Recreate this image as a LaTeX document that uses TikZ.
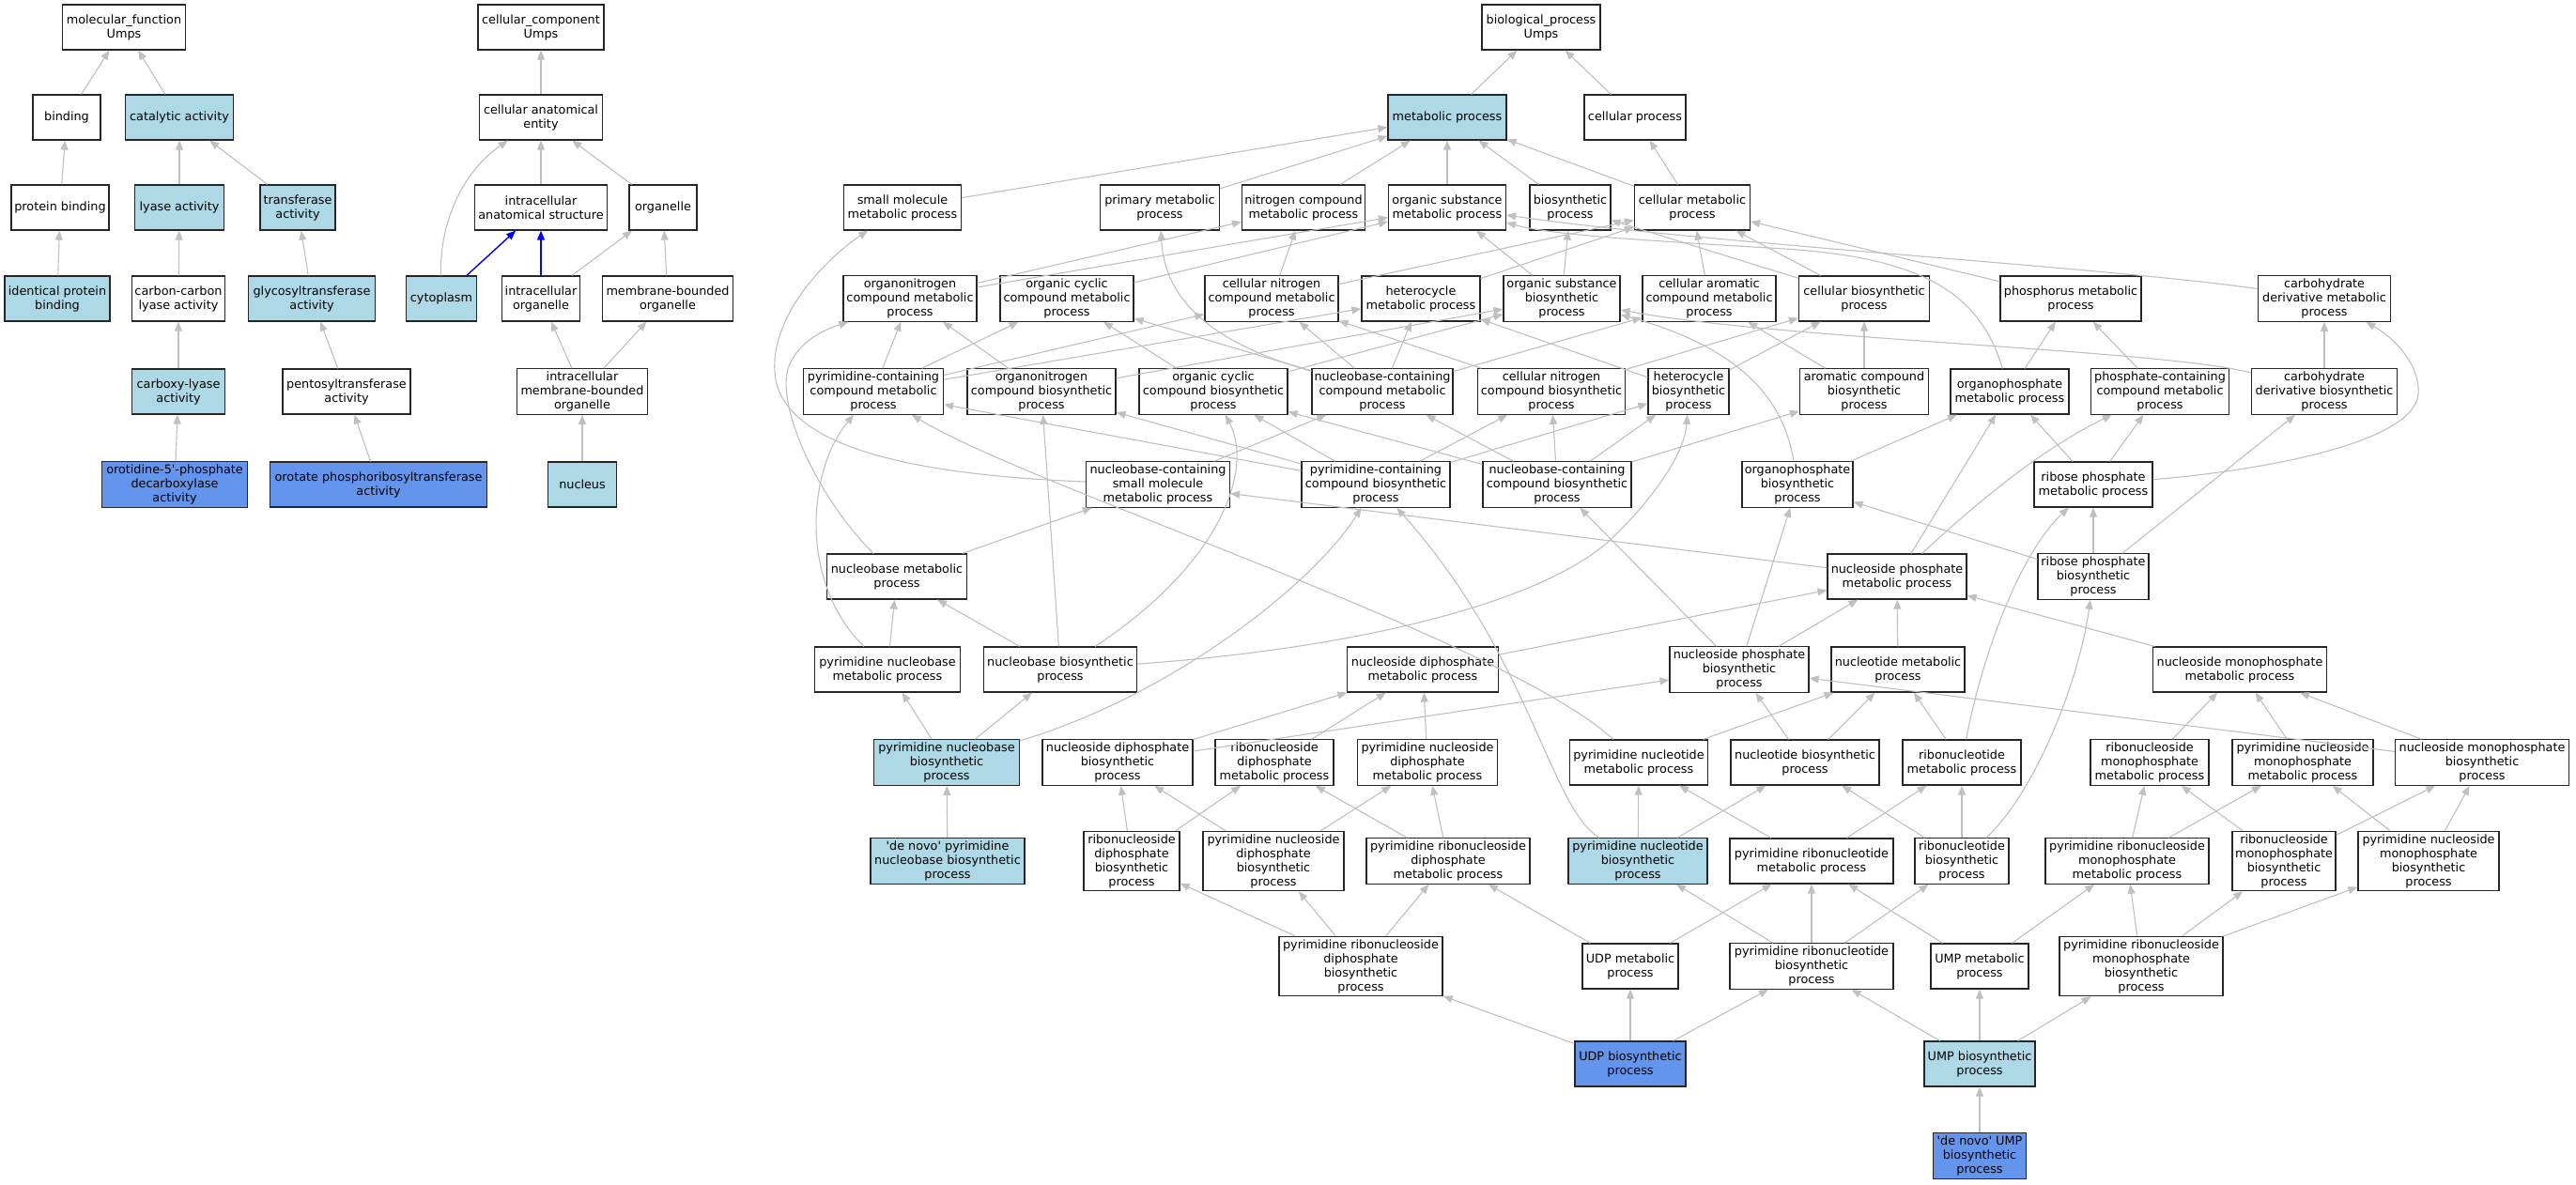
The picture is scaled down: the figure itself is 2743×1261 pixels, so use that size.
\documentclass[tikz,border=0pt]{standalone}
\usepackage{fontspec}
\setmainfont{DejaVu Sans}
\usetikzlibrary{arrows.meta}
\definecolor{lb}{RGB}{173,216,230}
\definecolor{cfb}{RGB}{100,149,237}
\definecolor{eg}{RGB}{192,192,192}
\tikzset{
  gobox/.style={draw=black!85, line width=1.2pt, fill=white, rectangle, align=center,
    inner xsep=2pt, inner ysep=3pt, minimum height=48pt,
    font=\fontsize{12.8pt}{15pt}\selectfont},
  lbf/.style={gobox, fill=lb},
  cbf/.style={gobox, fill=cfb},
  mw/.style={minimum width=#1pt},
  goedge/.style={draw=eg, line width=1.1pt, -{Triangle[length=10pt,width=8pt]}},
  goblue/.style={draw=blue, line width=1.4pt, -{Triangle[length=10pt,width=8pt]}},
}
\begin{document}
\begin{tikzpicture}[x=1pt,y=-1pt]
\fill[white] (0,0) rectangle (2743,1261);
\useasboundingbox (0,0) rectangle (2743,1261);
% ---------------- molecular function ----------------
\node[gobox,mw=131] (mf) at (132,29) {molecular\_function\\Umps};
\node[gobox,mw=72] (binding) at (71,125) {binding};
\node[lbf,mw=115] (catalytic) at (191,125) {catalytic activity};
\node[gobox,mw=104] (pbind) at (64,221) {protein binding};
\node[lbf,mw=95] (lyase) at (191,221) {lyase activity};
\node[lbf,mw=80] (transf) at (317,221) {transferase\\activity};
\node[lbf,mw=112] (ipb) at (61,318) {identical protein\\binding};
\node[gobox,mw=99] (cclyase) at (190,318) {carbon-carbon\\lyase activity};
\node[lbf,mw=135] (glyco) at (332,318) {glycosyltransferase\\activity};
\node[lbf,mw=99] (carboxy) at (190,417) {carboxy-lyase\\activity};
\node[gobox,mw=136] (pento) at (369,417) {pentosyltransferase\\activity};
\node[cbf,mw=155] (orotidine) at (186,516) {orotidine-5\textquotesingle-phosphate\\decarboxylase\\activity};
\node[cbf,mw=231] (orotate) at (403,516) {orotate phosphoribosyltransferase\\activity};
% ---------------- cellular component ----------------
\node[gobox,mw=134] (cc) at (576,29) {cellular\_component\\Umps};
\node[gobox,mw=131] (cae) at (576,125) {cellular anatomical\\entity};
\node[gobox,mw=141] (ias) at (576,221) {intracellular\\anatomical structure};
\node[gobox,mw=72] (organelle) at (706,221) {organelle};
\node[lbf,mw=75] (cytoplasm) at (470,318) {cytoplasm};
\node[gobox,mw=83] (iorg) at (576,318) {intracellular\\organelle};
\node[gobox,mw=139] (mbo) at (711,318) {membrane-bounded\\organelle};
\node[gobox,mw=139] (imbo) at (620,417) {intracellular\\membrane-bounded\\organelle};
\node[lbf,mw=73] (nucleus) at (620,516) {nucleus};
% ---------------- biological process ----------------
\node[gobox,mw=126] (bp) at (1641,29) {biological\_process\\Umps};
\node[lbf,mw=126] (metabolic) at (1541,125) {metabolic process};
\node[gobox,mw=108] (cellproc) at (1741,125) {cellular process};
% row 2
\node[gobox,mw=125] (smallmol) at (961,221) {small molecule\\metabolic process};
\node[gobox,mw=127] (primary) at (1235,221) {primary metabolic\\process};
\node[gobox,mw=131] (nitrogen) at (1388,221) {nitrogen compound\\metabolic process};
\node[gobox,mw=125] (orgsubst) at (1541,221) {organic substance\\metabolic process};
\node[gobox,mw=86] (biosyn) at (1672,221) {biosynthetic\\process};
\node[gobox,mw=123] (cellmet) at (1802,221) {cellular metabolic\\process};
% row 3
\node[gobox,mw=142] (orgN) at (969,318) {organonitrogen\\compound metabolic\\process};
\node[gobox,mw=142] (orgcyc) at (1136,318) {organic cyclic\\compound metabolic\\process};
\node[gobox,mw=142] (cellN) at (1354,318) {cellular nitrogen\\compound metabolic\\process};
\node[gobox,mw=126] (hetero) at (1513,318) {heterocycle\\metabolic process};
\node[gobox,mw=124] (orgsubbio) at (1663,318) {organic substance\\biosynthetic\\process};
\node[gobox,mw=142] (cellarom) at (1820,318) {cellular aromatic\\compound metabolic\\process};
\node[gobox,mw=139] (cellbio) at (1985,318) {cellular biosynthetic\\process};
\node[gobox,mw=150] (phosphorus) at (2205,318) {phosphorus metabolic\\process};
\node[gobox,mw=141] (carbder) at (2475,318) {carbohydrate\\derivative metabolic\\process};
% row 4
\node[gobox,mw=149] (pyrcont) at (930,417) {pyrimidine-containing\\compound metabolic\\process};
\node[gobox,mw=158] (orgNbio) at (1109,417) {organonitrogen\\compound biosynthetic\\process};
\node[gobox,mw=158] (orgcycbio) at (1292,417) {organic cyclic\\compound biosynthetic\\process};
\node[gobox,mw=150] (nbcont) at (1472,417) {nucleobase-containing\\compound metabolic\\process};
\node[gobox,mw=157] (cellNbio) at (1652,417) {cellular nitrogen\\compound biosynthetic\\process};
\node[gobox,mw=86] (heterobio) at (1798,417) {heterocycle\\biosynthetic\\process};
\node[gobox,mw=137] (arombio) at (1985,417) {aromatic compound\\biosynthetic\\process};
\node[gobox,mw=126] (orgP) at (2140,417) {organophosphate\\metabolic process};
\node[gobox,mw=147] (Pcont) at (2300,417) {phosphate-containing\\compound metabolic\\process};
\node[gobox,mw=155] (carbderbio) at (2475,417) {carbohydrate\\derivative biosynthetic\\process};
% row 5
\node[gobox,mw=153] (nbsmall) at (1233,516) {nucleobase-containing\\small molecule\\metabolic process};
\node[gobox,mw=158] (pyrcontbio) at (1465,516) {pyrimidine-containing\\compound biosynthetic\\process};
\node[gobox,mw=158] (nbcontbio) at (1658,516) {nucleobase-containing\\compound biosynthetic\\process};
\node[gobox,mw=118] (orgPbio) at (1914,516) {organophosphate\\biosynthetic\\process};
\node[gobox,mw=126] (ribP) at (2229,516) {ribose phosphate\\metabolic process};
% row 6
\node[gobox,mw=149] (nbmet) at (955,614) {nucleobase metabolic\\process};
\node[gobox,mw=148] (nsP) at (2020,614) {nucleoside phosphate\\metabolic process};
\node[gobox,mw=118] (ribPbio) at (2229,614) {ribose phosphate\\biosynthetic\\process};
% row 7
\node[gobox,mw=155] (pyrnbmet) at (945,713) {pyrimidine nucleobase\\metabolic process};
\node[gobox,mw=163] (nbbio) at (1129,713) {nucleobase biosynthetic\\process};
\node[gobox,mw=161] (nsDPmet) at (1515,713) {nucleoside diphosphate\\metabolic process};
\node[gobox,mw=148] (nsPbio) at (1852,713) {nucleoside phosphate\\biosynthetic\\process};
\node[gobox,mw=142] (ntmet) at (2021,713) {nucleotide metabolic\\process};
\node[gobox,mw=185] (nsMPmet) at (2385,713) {nucleoside monophosphate\\metabolic process};
% row 8
\node[lbf,mw=155] (pyrnbbio) at (1008,812) {pyrimidine nucleobase\\biosynthetic\\process};
\node[gobox,mw=160] (nsDPbio) at (1190,812) {nucleoside diphosphate\\biosynthetic\\process};
\node[gobox,mw=126] (rnsDPmet) at (1357,812) {ribonucleoside\\diphosphate\\metabolic process};
\node[gobox,mw=149] (pyrnsDPmet) at (1520,812) {pyrimidine nucleoside\\diphosphate\\metabolic process};
\node[gobox,mw=147] (pyrntmet) at (1745,812) {pyrimidine nucleotide\\metabolic process};
\node[gobox,mw=158] (ntbio) at (1922,812) {nucleotide biosynthetic\\process};
\node[gobox,mw=126] (rntmet) at (2089,812) {ribonucleotide\\metabolic process};
\node[gobox,mw=126] (rnsMPmet) at (2289,812) {ribonucleoside\\monophosphate\\metabolic process};
\node[gobox,mw=150] (pyrnsMPmet) at (2452,812) {pyrimidine nucleoside\\monophosphate\\metabolic process};
\node[gobox,mw=185] (nsMPbio) at (2643,812) {nucleoside monophosphate\\biosynthetic\\process};
% row 9
\node[lbf,mw=164] (denovopyr) at (1009,917) {\textquotesingle de novo\textquotesingle\ pyrimidine\\nucleobase biosynthetic\\process};
\node[gobox,mw=102] (rnsDPbio) at (1205,917) {ribonucleoside\\diphosphate\\biosynthetic\\process};
\node[gobox,mw=150] (pyrnsDPbio) at (1356,917) {pyrimidine nucleoside\\diphosphate\\biosynthetic\\process};
\node[gobox,mw=174] (pyrrnsDPmet) at (1542,917) {pyrimidine ribonucleoside\\diphosphate\\metabolic process};
\node[lbf,mw=148] (pyrntbio) at (1744,917) {pyrimidine nucleotide\\biosynthetic\\process};
\node[gobox,mw=174] (pyrrntmet) at (1929,917) {pyrimidine ribonucleotide\\metabolic process};
\node[gobox,mw=100] (rntbio) at (2089,917) {ribonucleotide\\biosynthetic\\process};
\node[gobox,mw=174] (pyrrnsMPmet) at (2265,917) {pyrimidine ribonucleoside\\monophosphate\\metabolic process};
\node[gobox,mw=110] (rnsMPbio) at (2432,917) {ribonucleoside\\monophosphate\\biosynthetic\\process};
\node[gobox,mw=150] (pyrnsMPbio) at (2586,917) {pyrimidine nucleoside\\monophosphate\\biosynthetic\\process};
% row 10
\node[gobox,mw=174] (pyrrnsDPbio) at (1449,1029) {pyrimidine ribonucleoside\\diphosphate\\biosynthetic\\process};
\node[gobox,mw=102] (UDPmet) at (1736,1029) {UDP metabolic\\process};
\node[gobox,mw=174] (pyrrntbio) at (1929,1029) {pyrimidine ribonucleotide\\biosynthetic\\process};
\node[gobox,mw=104] (UMPmet) at (2108,1029) {UMP metabolic\\process};
\node[gobox,mw=174] (pyrrnsMPbio) at (2280,1029) {pyrimidine ribonucleoside\\monophosphate\\biosynthetic\\process};
% row 11, 12
\node[cbf,mw=118] (UDPbio) at (1736,1133) {UDP biosynthetic\\process};
\node[lbf,mw=118] (UMPbio) at (2108,1133) {UMP biosynthetic\\process};
\node[cbf,mw=99] (denovoUMP) at (2108,1231) {\textquotesingle de novo\textquotesingle\ UMP\\biosynthetic\\process};

% ================= edges =================
% molecular function
\draw[goedge] (binding) -- (mf);
\draw[goedge] (catalytic) -- (mf);
\draw[goedge] (pbind) -- (binding);
\draw[goedge] (lyase) -- (catalytic);
\draw[goedge] (transf) -- (catalytic);
\draw[goedge] (ipb) -- (pbind);
\draw[goedge] (cclyase) -- (lyase);
\draw[goedge] (glyco) -- (transf);
\draw[goedge] (carboxy) -- (cclyase);
\draw[goedge] (pento) -- (glyco);
\draw[goedge] (orotidine) -- (carboxy);
\draw[goedge] (orotate) -- (pento);
% cellular component
\draw[goedge] (cae) -- (cc);
\draw[goedge] (ias) -- (cae);
\draw[goedge] (organelle) -- (cae);
\draw[goedge] (cytoplasm) .. controls (468,240) and (490,185) .. (cae);
\draw[goblue] (cytoplasm) -- (ias);
\draw[goblue] (iorg) -- (ias);
\draw[goedge] (iorg) -- (organelle);
\draw[goedge] (mbo) -- (organelle);
\draw[goedge] (imbo) -- (iorg);
\draw[goedge] (imbo) -- (mbo);
\draw[goedge] (nucleus) -- (imbo);
% biological process: rows 1-2
\draw[goedge] (metabolic) -- (bp);
\draw[goedge] (cellproc) -- (bp);
\draw[goedge] (smallmol) -- (metabolic);
\draw[goedge] (primary) -- (metabolic);
\draw[goedge] (nitrogen) -- (metabolic);
\draw[goedge] (orgsubst) -- (metabolic);
\draw[goedge] (biosyn) -- (metabolic);
\draw[goedge] (cellmet) -- (metabolic);
\draw[goedge] (cellmet) -- (cellproc);
% row 3
\draw[goedge] (orgN) -- (nitrogen);
\draw[goedge] (orgN) -- (orgsubst);
\draw[goedge] (orgcyc) -- (orgsubst);
\draw[goedge] (cellN) -- (nitrogen);
\draw[goedge] (cellN) -- (cellmet);
\draw[goedge] (hetero) -- (cellmet);
\draw[goedge] (orgsubbio) -- (orgsubst);
\draw[goedge] (orgsubbio) -- (biosyn);
\draw[goedge] (cellarom) -- (cellmet);
\draw[goedge] (cellbio) -- (cellmet);
\draw[goedge] (cellbio) -- (biosyn);
\draw[goedge] (phosphorus) -- (cellmet);
\draw[goedge] (carbder) .. controls (2250,285) and (1800,258) .. ([yshift=-8pt]orgsubst.east);
% row 4
\draw[goedge] (pyrcont) -- (orgN);
\draw[goedge] (pyrcont) -- (orgcyc);
\draw[goedge] (pyrcont) -- (cellN);
\draw[goedge] (pyrcont) -- (hetero);
\draw[goedge] (orgNbio) -- (orgN);
\draw[goedge] (orgNbio) -- (orgsubbio);
\draw[goedge] (orgcycbio) -- (orgcyc);
\draw[goedge] (orgcycbio) -- (orgsubbio);
\draw[goedge] (nbcont) -- (orgcyc);
\draw[goedge] (nbcont) -- (cellN);
\draw[goedge] (nbcont) -- (hetero);
\draw[goedge] (nbcont) -- (cellarom);
\draw[goedge] (nbcont) .. controls (1290,365) and (1240,320) .. (primary);
\draw[goedge] (cellNbio) -- (cellN);
\draw[goedge] (cellNbio) -- (cellbio);
\draw[goedge] (heterobio) -- (hetero);
\draw[goedge] (heterobio) -- (cellbio);
\draw[goedge] (arombio) -- (cellarom);
\draw[goedge] (arombio) -- (cellbio);
\draw[goedge] (orgP) -- (phosphorus);
\draw[goedge] (orgP) .. controls (2110,320) and (2060,275) .. (1900,265) .. controls (1750,256) and (1650,250) .. ([yshift=-16pt]orgsubst.east);
\draw[goedge] (Pcont) -- (phosphorus);
\draw[goedge] (carbderbio) -- (carbder);
\draw[goedge] (carbderbio) .. controls (2300,372) and (1900,362) .. ([yshift=-12pt]orgsubbio.east);
% row 5
\draw[goedge] (nbsmall) .. controls (950,505) and (840,470) .. (826,405) .. controls (815,340) and (880,275) .. (smallmol);
\draw[goedge] (nbsmall) -- (nbcont);
\draw[goedge] (pyrcontbio) -- (pyrcont);
\draw[goedge] (pyrcontbio) -- (orgNbio);
\draw[goedge] (pyrcontbio) -- (orgcycbio);
\draw[goedge] (pyrcontbio) -- (cellNbio);
\draw[goedge] (pyrcontbio) -- (heterobio);
\draw[goedge] (nbcontbio) -- (nbcont);
\draw[goedge] (nbcontbio) -- (cellNbio);
\draw[goedge] (nbcontbio) -- (heterobio);
\draw[goedge] (nbcontbio) -- (arombio);
\draw[goedge] (nbcontbio) -- (orgcycbio);
\draw[goedge] (orgPbio) -- (orgP);
\draw[goedge] (orgPbio) .. controls (1900,430) and (1860,372) .. (orgsubbio);
\draw[goedge] (ribP) -- (orgP);
\draw[goedge] (ribP) -- (Pcont);
\draw[goedge] (ribP) .. controls (2420,500) and (2570,470) .. (2575,420) .. controls (2578,390) and (2550,360) .. (carbder);
% row 6
\draw[goedge] (nbmet) .. controls (870,530) and (825,430) .. (840,390) .. controls (850,365) and (875,352) .. ([xshift=6pt]orgN.south west);
\draw[goedge] (nbmet) -- (nbsmall);
\draw[goedge] (nsP) -- (orgP);
\draw[goedge] (nsP) .. controls (2100,540) and (2170,480) .. (Pcont);
\draw[goedge] (nsP) -- (nbsmall);
\draw[goedge] (ribPbio) -- (ribP);
\draw[goedge] (ribPbio) -- (carbderbio);
\draw[goedge] (ribPbio) -- (orgPbio);
% row 7
\draw[goedge] (pyrnbmet) .. controls (850,620) and (860,500) .. (pyrcont);
\draw[goedge] (pyrnbmet) -- (nbmet);
\draw[goedge] (nbbio) -- (nbmet);
\draw[goedge] (nbbio) -- (orgNbio);
\draw[goedge] (nbbio) .. controls (1300,600) and (1335,500) .. (orgcycbio);
\draw[goedge] (nbbio) .. controls (1450,690) and (1650,640) .. (1720,570) .. controls (1780,510) and (1795,470) .. (heterobio);
\draw[goedge] (nsDPmet) -- (nsP);
\draw[goedge] (nsPbio) -- (nsP);
\draw[goedge] (nsPbio) -- (orgPbio);
\draw[goedge] (nsPbio) -- (nbcontbio);
\draw[goedge] (ntmet) -- (nsP);
\draw[goedge] (nsMPmet) -- (nsP);
% row 8
\draw[goedge] (pyrnbbio) -- (pyrnbmet);
\draw[goedge] (pyrnbbio) -- (nbbio);
\draw[goedge] (pyrnbbio) .. controls (1250,740) and (1400,620) .. (pyrcontbio);
\draw[goedge] (nsDPbio) -- (nsDPmet);
\draw[goedge] (nsDPbio) -- (nsPbio);
\draw[goedge] (rnsDPmet) -- (nsDPmet);
\draw[goedge] (pyrnsDPmet) -- (nsDPmet);
\draw[goedge] (pyrntmet) .. controls (1600,680) and (1100,520) .. (pyrcont);
\draw[goedge] (pyrntmet) -- (ntmet);
\draw[goedge] (ntbio) -- (nsPbio);
\draw[goedge] (ntbio) -- (ntmet);
\draw[goedge] (rntmet) -- (ntmet);
\draw[goedge] (rntmet) .. controls (2110,700) and (2150,590) .. (ribP);
\draw[goedge] (rnsMPmet) -- (nsMPmet);
\draw[goedge] (pyrnsMPmet) -- (nsMPmet);
\draw[goedge] (nsMPbio) -- (nsMPmet);
\draw[goedge] (nsMPbio) -- (nsPbio);
% row 9
\draw[goedge] (denovopyr) -- (pyrnbbio);
\draw[goedge] (rnsDPbio) -- (nsDPbio);
\draw[goedge] (rnsDPbio) -- (rnsDPmet);
\draw[goedge] (pyrnsDPbio) -- (nsDPbio);
\draw[goedge] (pyrnsDPbio) -- (pyrnsDPmet);
\draw[goedge] (pyrrnsDPmet) -- (rnsDPmet);
\draw[goedge] (pyrrnsDPmet) -- (pyrnsDPmet);
\draw[goedge] (pyrntbio) -- (pyrntmet);
\draw[goedge] (pyrntbio) -- (ntbio);
\draw[goedge] (pyrntbio) .. controls (1650,860) and (1630,700) .. (pyrcontbio);
\draw[goedge] (pyrrntmet) -- (pyrntmet);
\draw[goedge] (pyrrntmet) -- (rntmet);
\draw[goedge] (rntbio) -- (ntbio);
\draw[goedge] (rntbio) -- (rntmet);
\draw[goedge] (rntbio) .. controls (2170,840) and (2215,720) .. (ribPbio);
\draw[goedge] (pyrrnsMPmet) -- (rnsMPmet);
\draw[goedge] (pyrrnsMPmet) -- (pyrnsMPmet);
\draw[goedge] (rnsMPbio) -- (rnsMPmet);
\draw[goedge] (rnsMPbio) -- (nsMPbio);
\draw[goedge] (pyrnsMPbio) -- (pyrnsMPmet);
\draw[goedge] (pyrnsMPbio) -- (nsMPbio);
% row 10
\draw[goedge] (pyrrnsDPbio) -- (rnsDPbio);
\draw[goedge] (pyrrnsDPbio) -- (pyrnsDPbio);
\draw[goedge] (pyrrnsDPbio) -- (pyrrnsDPmet);
\draw[goedge] (UDPmet) -- (pyrrnsDPmet);
\draw[goedge] (UDPmet) -- (pyrrntmet);
\draw[goedge] (pyrrntbio) -- (pyrntbio);
\draw[goedge] (pyrrntbio) -- (pyrrntmet);
\draw[goedge] (pyrrntbio) -- (rntbio);
\draw[goedge] (UMPmet) -- (pyrrntmet);
\draw[goedge] (UMPmet) -- (pyrrnsMPmet);
\draw[goedge] (pyrrnsMPbio) -- (pyrrnsMPmet);
\draw[goedge] (pyrrnsMPbio) -- (rnsMPbio);
\draw[goedge] (pyrrnsMPbio) -- (pyrnsMPbio);
% row 11, 12
\draw[goedge] (UDPbio) -- (pyrrnsDPbio);
\draw[goedge] (UDPbio) -- (UDPmet);
\draw[goedge] (UDPbio) -- (pyrrntbio);
\draw[goedge] (UMPbio) -- (pyrrntbio);
\draw[goedge] (UMPbio) -- (UMPmet);
\draw[goedge] (UMPbio) -- (pyrrnsMPbio);
\draw[goedge] (denovoUMP) -- (UMPbio);
\end{tikzpicture}
\end{document}
